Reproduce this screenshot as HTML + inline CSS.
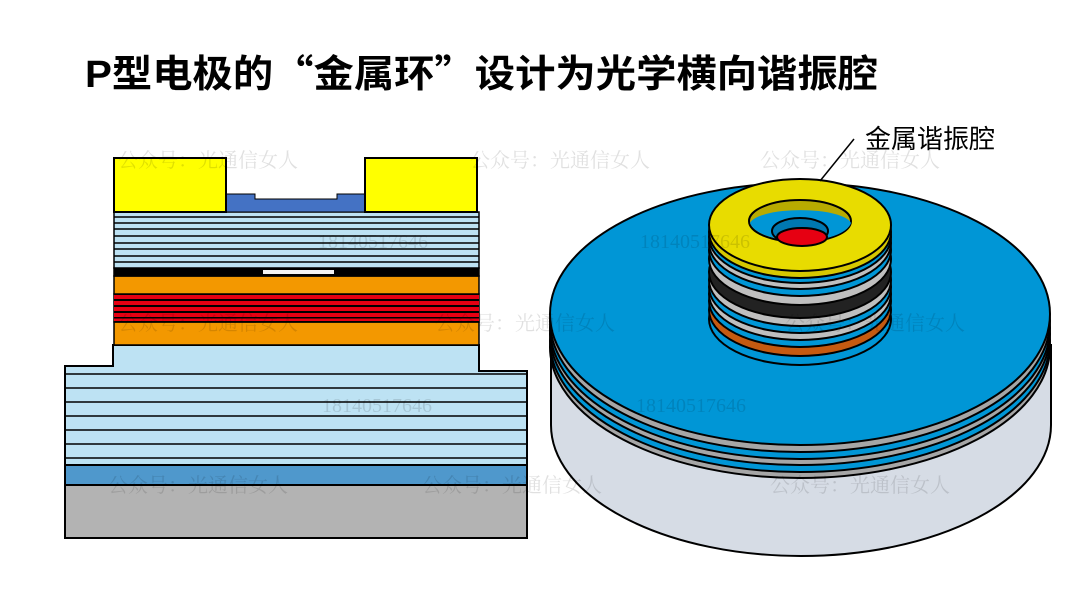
<!DOCTYPE html>
<html><head><meta charset="utf-8"><style>
html,body{margin:0;padding:0;background:#fff;}
svg{display:block;}
</style></head><body>
<svg width="1080" height="608" viewBox="0 0 1080 608" xmlns="http://www.w3.org/2000/svg">
<rect width="1080" height="608" fill="#fff"/>
<text x="85" y="87" font-family="'Liberation Sans','Noto Sans CJK SC',sans-serif" font-weight="bold" font-size="38" textLength="793" lengthAdjust="spacingAndGlyphs" fill="#000">P型电极的<tspan font-family="'Noto Sans CJK SC',sans-serif">“</tspan>金属环<tspan font-family="'Noto Sans CJK SC',sans-serif">”</tspan>设计为光学横向谐振腔</text>

<!-- LEFT DIAGRAM -->
<g stroke="#000" stroke-width="2">
  <rect x="65" y="485" width="462" height="53" fill="#b3b3b3"/>
  <rect x="65" y="465" width="462" height="20" fill="#4f98cc"/>
  <path d="M65 366 L113 366 L113 345 L479 345 L479 371 L527 371 L527 465 L65 465 Z" fill="#bde2f3"/>
</g>
<g stroke="#000" stroke-width="1.6">
  <line x1="65" y1="374" x2="527" y2="374"/>
  <line x1="65" y1="388" x2="527" y2="388"/>
  <line x1="65" y1="402" x2="527" y2="402"/>
  <line x1="65" y1="416" x2="527" y2="416"/>
  <line x1="65" y1="430" x2="527" y2="430"/>
  <line x1="65" y1="444" x2="527" y2="444"/>
  <line x1="65" y1="458" x2="527" y2="458"/>
</g>
<g stroke="#000" stroke-width="1.5">
  <rect x="114" y="322" width="365" height="23" fill="#f39800"/>
  <rect x="114" y="294" width="365" height="28" fill="#000"/>
  <rect x="114" y="295" width="365" height="4" fill="#e60012" stroke="none"/>
  <rect x="114" y="301" width="365" height="4" fill="#e60012" stroke="none"/>
  <rect x="114" y="307" width="365" height="4" fill="#e60012" stroke="none"/>
  <rect x="114" y="313" width="365" height="4" fill="#e60012" stroke="none"/>
  <rect x="114" y="318.5" width="365" height="2.5" fill="#e60012" stroke="none"/>
  <rect x="114" y="276" width="365" height="18" fill="#f39800"/>
  <rect x="114" y="268" width="365" height="8" fill="#000"/>
  <rect x="263" y="270" width="71" height="4" fill="#f2f2f2" stroke="none"/>
  <rect x="114" y="212" width="365" height="56" fill="#bde2f3"/>
</g>
<g stroke="#000" stroke-width="1.5">
  <line x1="114" y1="217" x2="479" y2="217"/>
  <line x1="114" y1="223" x2="479" y2="223"/>
  <line x1="114" y1="229" x2="479" y2="229"/>
  <line x1="114" y1="236" x2="479" y2="236"/>
  <line x1="114" y1="243" x2="479" y2="243"/>
  <line x1="114" y1="249" x2="479" y2="249"/>
  <line x1="114" y1="256" x2="479" y2="256"/>
  <line x1="114" y1="262" x2="479" y2="262"/>
</g>
<path d="M226 212 L226 194 L255 194 L255 199 L337 199 L337 194 L365 194 L365 212 Z" fill="#4472c4" stroke="#000" stroke-width="1"/>
<rect x="114" y="158" width="112" height="54" fill="#ffff00" stroke="#000" stroke-width="2"/>
<rect x="365" y="158" width="112" height="54" fill="#ffff00" stroke="#000" stroke-width="2"/>

<!-- RIGHT DIAGRAM -->
<g stroke="#000" stroke-width="2">
  <path d="M551 345 L551 425 A250 131 0 0 0 1051 425 L1051 345 Z" fill="#d6dce5"/>
  <ellipse cx="800" cy="347" rx="250" ry="131" fill="#a6a6a6"/>
  <ellipse cx="800" cy="341" rx="250" ry="131" fill="#0096d6"/>
  <ellipse cx="800" cy="334" rx="250" ry="131" fill="#a6a6a6"/>
  <ellipse cx="800" cy="328" rx="250" ry="131" fill="#0096d6"/>
  <ellipse cx="800" cy="321" rx="250" ry="131" fill="#a6a6a6"/>
  <ellipse cx="800" cy="314" rx="250" ry="131" fill="#0096d6"/>
</g>
<g stroke="#000" stroke-width="2">
  <ellipse cx="800" cy="319" rx="91" ry="46" fill="#0096d6"/>
  <ellipse cx="800" cy="310" rx="91" ry="46" fill="#c55a11"/>
  <ellipse cx="800" cy="301" rx="91" ry="46" fill="#0096d6"/>
  <ellipse cx="800" cy="294" rx="91" ry="46" fill="#bfbfbf"/>
  <ellipse cx="800" cy="287" rx="91" ry="46" fill="#0096d6"/>
  <ellipse cx="800" cy="280" rx="91" ry="46" fill="#bfbfbf"/>
  <ellipse cx="800" cy="272" rx="91" ry="46" fill="#222"/>
  <ellipse cx="800" cy="259" rx="91" ry="46" fill="#bfbfbf"/>
  <ellipse cx="800" cy="250" rx="91" ry="46" fill="#0096d6"/>
  <ellipse cx="800" cy="243" rx="91" ry="46" fill="#bfbfbf"/>
  <ellipse cx="800" cy="237" rx="91" ry="46" fill="#0096d6"/>
  <ellipse cx="800" cy="232" rx="91" ry="46" fill="#d6c800"/>
  <ellipse cx="800" cy="225" rx="91" ry="46" fill="#e8dc00"/>
  <ellipse cx="800" cy="221" rx="51" ry="21" fill="#b8ab00"/>
  <path d="M750 223 A51 21 0 0 0 851 223 A51 15 0 0 0 750 223 Z" fill="#0096d6" stroke="none"/>
  <ellipse cx="800" cy="231" rx="28" ry="13" fill="#0078b0"/>
  <ellipse cx="802" cy="237" rx="25" ry="9" fill="#e60012"/>
</g>
<line x1="854" y1="139" x2="820" y2="181" stroke="#000" stroke-width="1.5"/>
<text x="865" y="148" font-family="'Liberation Sans','Noto Sans CJK SC',sans-serif" font-size="26" fill="#000">金属谐振腔</text>

<!-- watermarks -->
<g font-family="'Liberation Serif','Noto Serif CJK SC',serif" font-size="20" fill="#000" fill-opacity="0.12">
  <text x="118" y="167">公众号：光通信女人</text>
  <text x="470" y="167">公众号：光通信女人</text>
  <text x="760" y="167">公众号：光通信女人</text>
  <text x="118" y="330">公众号：光通信女人</text>
  <text x="435" y="330">公众号：光通信女人</text>
  <text x="785" y="330">公众号：光通信女人</text>
  <text x="108" y="492">公众号：光通信女人</text>
  <text x="422" y="492">公众号：光通信女人</text>
  <text x="770" y="492">公众号：光通信女人</text>
  <text x="318" y="248">18140517646</text>
  <text x="640" y="248">18140517646</text>
  <text x="322" y="412">18140517646</text>
  <text x="636" y="412">18140517646</text>
</g>
</svg>
</body></html>
